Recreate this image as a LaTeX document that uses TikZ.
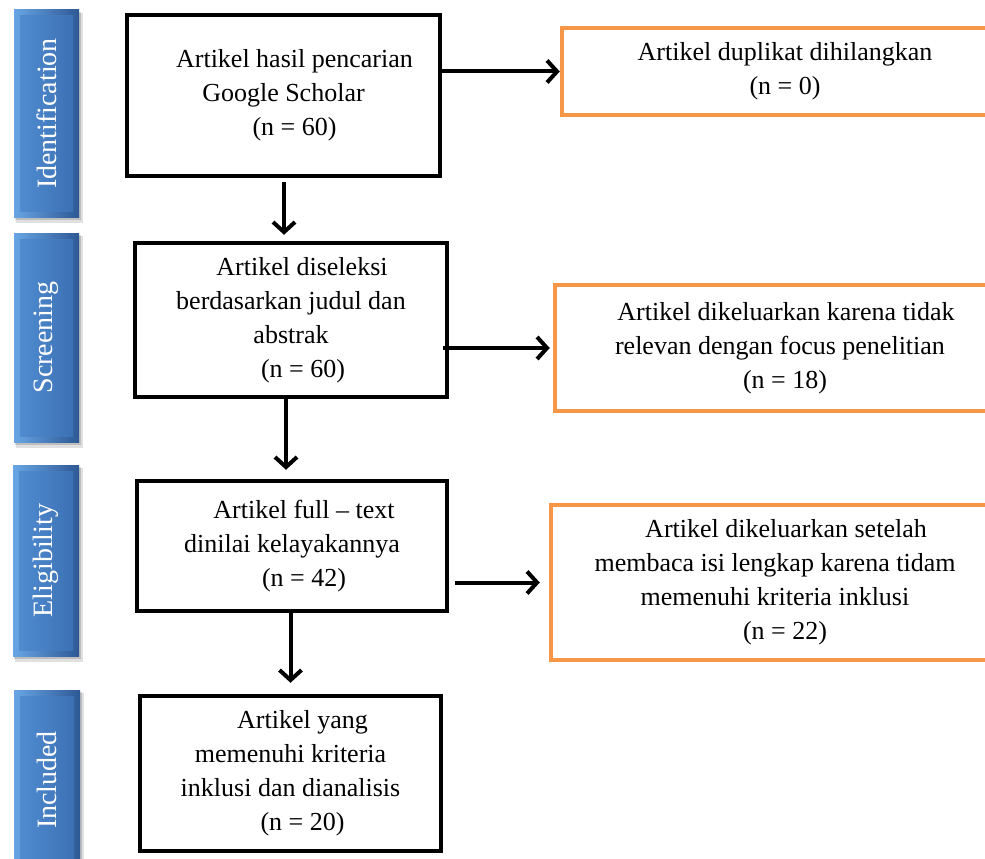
\documentclass[tikz,border=0pt]{standalone}
\usepackage{fontspec}
\setmainfont{Liberation Serif}
\usetikzlibrary{arrows.meta,calc}
\definecolor{orng}{RGB}{247,150,70}
\definecolor{blA}{RGB}{105,165,228}
\definecolor{blB}{RGB}{45,88,148}
\definecolor{blC}{RGB}{80,140,208}
\definecolor{blD}{RGB}{60,113,180}
\newcommand\phasebar[6]{%
  \fill[black,opacity=0.12] (#1+2,#2+3) rectangle (#3+4,#4+6);
  \fill[black,opacity=0.15] (#1+1,#2+2) rectangle (#3+2,#4+3);
  \shade[left color=blA,right color=blB] (#1,#2) rectangle (#3,#4);
  \shade[left color=blC,right color=blD] (#1+6,#2+6) rectangle (#3-6,#4-6);
  \node[lab] (#5) at ({(#1+#3)/2},{(#2+#4)/2}) {#6};}
\begin{document}
\begin{tikzpicture}[x=1pt,y=-1pt,
  box/.style={draw=black, line width=4.5pt, rectangle, align=center,
    font=\fontsize{26}{34}\selectfont, inner sep=0pt},
  obox/.style={box, draw=orng},
  arr/.style={line width=4pt, -{Straight Barb[length=10pt,width=22pt]}},
  lab/.style={text=white, rotate=90, font=\fontsize{28}{30}\selectfont}]
\useasboundingbox (0,0) rectangle (985,859);
\clip (0,0) rectangle (985,859);
\fill[white] (0,0) rectangle (985,859);

% phase bars
\phasebar{14}{10}{79}{217}{p1}{Identification}
\phasebar{14}{233}{79}{442}{p2}{Screening}
\phasebar{13}{465}{79}{656}{p3}{Eligibility}
\phasebar{14}{690}{80}{870}{p4}{Included}

% main boxes
\node[box, minimum width=313pt, minimum height=161pt] (b1) at (283.5,95.5)
  {\hspace*{22pt}Artikel hasil pencarian\\Google Scholar\\\hspace*{22pt}(n = 60)};
\node[box, minimum width=312pt, minimum height=154pt] (b2) at (291,320)
  {\hspace*{22pt}Artikel diseleksi\\berdasarkan judul dan\\abstrak\\\hspace*{24pt}(n = 60)};
\node[box, minimum width=310pt, minimum height=130pt] (b3) at (292,546)
  {\hspace*{24pt}Artikel full – text\\dinilai kelayakannya\\\hspace*{24pt}(n = 42)};
\node[box, minimum width=301pt, minimum height=155pt] (b4) at (290.5,773.5)
  {\hspace*{24pt}Artikel yang\\memenuhi kriteria\\inklusi dan dianalisis\\\hspace*{24pt}(n = 20)};

% excluded boxes
\node[obox, minimum width=446pt, minimum height=87pt] (d1) at (785,71.5)
  {Artikel duplikat dihilangkan\\(n = 0)};
\node[obox, minimum width=450pt, minimum height=126pt] (o2) at (780,348)
  {\hspace*{12pt}Artikel dikeluarkan karena tidak\\relevan dengan focus penelitian\hspace*{14pt}\\\hspace*{10pt}(n = 18)};
\node[obox, minimum width=448pt, minimum height=155pt] (o3) at (775,582.5)
  {\hspace*{22pt}Artikel dikeluarkan setelah\\membaca isi lengkap karena tidam\\memenuhi kriteria inklusi\\\hspace*{20pt}(n = 22)};

% connectors
\coordinate (t2) at ([xshift=-7pt,yshift=6pt]b2.north);
\coordinate (t3) at ([xshift=-6pt,yshift=9pt]b3.north);
\coordinate (t4) at ([xshift=0pt,yshift=11pt]b4.north);
\draw[arr, shorten <=4pt] (b1.south -| t2) -- (t2);
\draw[arr] (b2.south -| t3) -- (t3);
\draw[arr] (b3.south -| t4) -- (t4);
\draw[arr] (b1.east |- d1.west) -- (d1.west);
\draw[arr, shorten <=-6pt, shorten >=3pt] (b2.east |- o2.west) -- (o2.west);
\draw[arr, shorten <=6pt, shorten >=9pt] (b3.east |- o3.west) -- (o3.west);
\end{tikzpicture}
\end{document}
